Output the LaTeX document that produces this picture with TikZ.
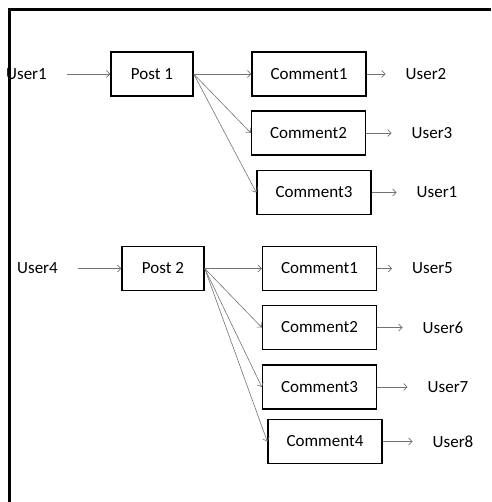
\documentclass[tikz,border=0pt]{standalone}
\usepackage{fontspec}
\setmainfont{Carlito}
\usetikzlibrary{arrows.meta}
\tikzset{
  box/.style={draw=black, line width=1.4pt, minimum height=44pt, inner sep=0pt,
    font=\fontsize{17}{20}\selectfont},
  postbox/.style={box, minimum width=82pt},
  combox/.style={box, minimum width=114pt},
  user/.style={inner ysep=0pt, inner xsep=20pt, font=\fontsize{17}{20}\selectfont},
  link/.style={draw=black!55, line width=0.6pt, -{Straight Barb[length=3.5pt,width=7pt]}}
}
\begin{document}
\begin{tikzpicture}[x=1pt, y=-1pt]
  \useasboundingbox (0,0) rectangle (491,502);
  % first post
  \node [user] (u1) at (26.5,74) {User1};
  \node [postbox] (p1) at (152,74) {Post 1};
  \node [combox] (p1c1) at (309,74) {Comment1};
  \node [combox] (p1c2) at (308.5,133) {Comment2};
  \node [combox] (p1c3) at (314,192.5) {Comment3};
  \node [user] (u2) at (426,74) {User2};
  \node [user] (u3) at (432,133) {User3};
  \node [user] (u1b) at (437,192.5) {User1};
  \draw [link] (u1.east) -- (p1.west);
  \draw [link] (p1.east) -- (p1c1.west);
  \draw [link] (p1.east) -- (p1c2.west);
  \draw [link] (p1.east) -- (p1c3.west);
  \draw [link] (p1c1.east) -- (u2.west);
  \draw [link] (p1c2.east) -- (u3.west);
  \draw [link] (p1c3.east) -- (u1b.west);
  % second post
  \node [user] (u4) at (37.5,268.5) {User4};
  \node [postbox] (p2) at (163,268.5) {Post 2};
  \node [combox] (p2c1) at (319.5,268.5) {Comment1};
  \node [combox] (p2c2) at (319.5,327.5) {Comment2};
  \node [combox] (p2c3) at (319.5,387) {Comment3};
  \node [combox] (p2c4) at (325,441.5) {Comment4};
  \node [user] (u5) at (432.5,268.5) {User5};
  \node [user] (u6) at (443,327.5) {User6};
  \node [user] (u7) at (448,387) {User7};
  \node [user] (u8) at (453,441.5) {User8};
  \draw [link] (u4.east) -- (p2.west);
  \foreach \c in {p2c1,p2c2,p2c3,p2c4}
    \draw [link] (p2.east) -- (\c.west);
  \draw [link] (p2c1.east) -- (u5.west);
  \draw [link] (p2c2.east) -- (u6.west);
  \draw [link] (p2c3.east) -- (u7.west);
  \draw [link] (p2c4.east) -- (u8.west);
  % frame
  \draw [line width=3pt] (9.5,502) -- (9.5,9.5) -- (491,9.5);
\end{tikzpicture}
\end{document}
